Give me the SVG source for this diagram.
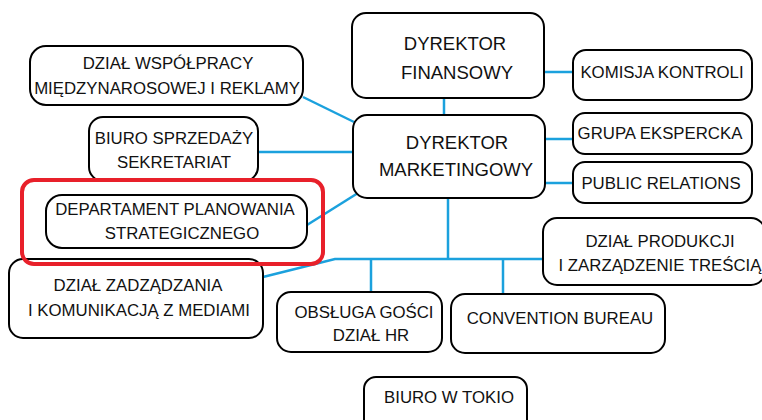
<svg xmlns="http://www.w3.org/2000/svg" width="762" height="420" viewBox="0 0 762 420">
<style>
.b{fill:#fff;stroke:#000;stroke-width:2}
.c{fill:none;stroke:#1ba1dd;stroke-width:2.5}
.hl{fill:none;stroke:#e8202a;stroke-width:4}
text{font-family:"Liberation Sans",Arial,sans-serif;font-size:16.8px;fill:#111;text-anchor:middle}
.l{font-size:18.5px}
</style>
<rect width="762" height="420" fill="#fff"/>
<g id="connectors">
<line class="c" x1="444" y1="98" x2="444" y2="115"/>
<line class="c" x1="545" y1="72" x2="573" y2="72"/>
<line class="c" x1="545" y1="139" x2="573" y2="139"/>
<line class="c" x1="545" y1="183" x2="573" y2="183"/>
<line class="c" x1="303" y1="97" x2="354" y2="122"/>
<line class="c" x1="258" y1="152" x2="353" y2="152"/>
<line class="c" x1="307" y1="225" x2="358" y2="193"/>
<line class="c" x1="448" y1="198" x2="448" y2="259"/>
<polyline class="c" points="263,277 335,259 543,259"/>
<line class="c" x1="371" y1="259" x2="371" y2="292"/>
<line class="c" x1="503" y1="259" x2="503" y2="295"/>
</g>
<g id="dyrektor-finansowy"><rect class="b" x="352" y="13" width="192" height="85" rx="14"/><text class="l" x="455" y="50">DYREKTOR</text><text class="l" x="457" y="79">FINANSOWY</text></g>
<g id="dyrektor-marketingowy"><rect class="b" x="353" y="115" width="192" height="83" rx="14"/><text class="l" x="457" y="149">DYREKTOR</text><text class="l" x="456" y="176">MARKETINGOWY</text></g>
<g id="komisja-kontroli"><rect class="b" x="573" y="50" width="179" height="50" rx="13"/><text x="662" y="78">KOMISJA KONTROLI</text></g>
<g id="grupa-ekspercka"><rect class="b" x="573" y="113" width="179" height="41" rx="12"/><text x="660" y="139">GRUPA EKSPERCKA</text></g>
<g id="public-relations"><rect class="b" x="573" y="162" width="179" height="41" rx="12"/><text x="661" y="189">PUBLIC RELATIONS</text></g>
<g id="dzial-wspolpracy"><rect class="b" x="30" y="46" width="273" height="59" rx="16"/><text x="168" y="69">DZIAŁ WSPÓŁPRACY</text><text x="167" y="94">MIĘDZYNAROSOWEJ I REKLAMY</text></g>
<g id="biuro-sprzedazy"><rect class="b" x="89" y="117" width="169" height="64" rx="14"/><text x="174" y="144">BIURO SPRZEDAŻY</text><text x="174" y="168">SEKRETARIAT</text></g>
<g id="dzial-zadzadzania"><rect class="b" x="9" y="259" width="254" height="79" rx="14"/><text x="138" y="291">DZIAŁ ZADZĄDZANIA</text><text x="139" y="316">I KOMUNIKACJĄ Z MEDIAMI</text></g>
<g id="departament"><rect class="hl" x="22" y="180" width="301" height="84" rx="12"/><rect class="b" x="46" y="195" width="261" height="53" rx="16"/><text x="175" y="215">DEPARTAMENT PLANOWANIA</text><text x="182" y="239">STRATEGICZNEGO</text></g>
<g id="obsluga-gosci"><rect class="b" x="277" y="292" width="165" height="60" rx="14"/><text x="364" y="318">OBSŁUGA GOŚCI</text><text x="371" y="341">DZIAŁ HR</text></g>
<g id="convention-bureau"><rect class="b" x="451" y="294" width="214" height="59" rx="14"/><text x="560" y="324">CONVENTION BUREAU</text></g>
<g id="dzial-produkcji"><rect class="b" x="543" y="218" width="222" height="67" rx="14"/><text x="660" y="247">DZIAŁ PRODUKCJI</text><text x="660" y="271">I ZARZĄDZENIE TREŚCIĄ</text></g>
<g id="biuro-w-tokio"><rect class="b" x="364" y="377" width="163" height="60" rx="12"/><text x="449" y="403">BIURO W TOKIO</text></g>
</svg>
